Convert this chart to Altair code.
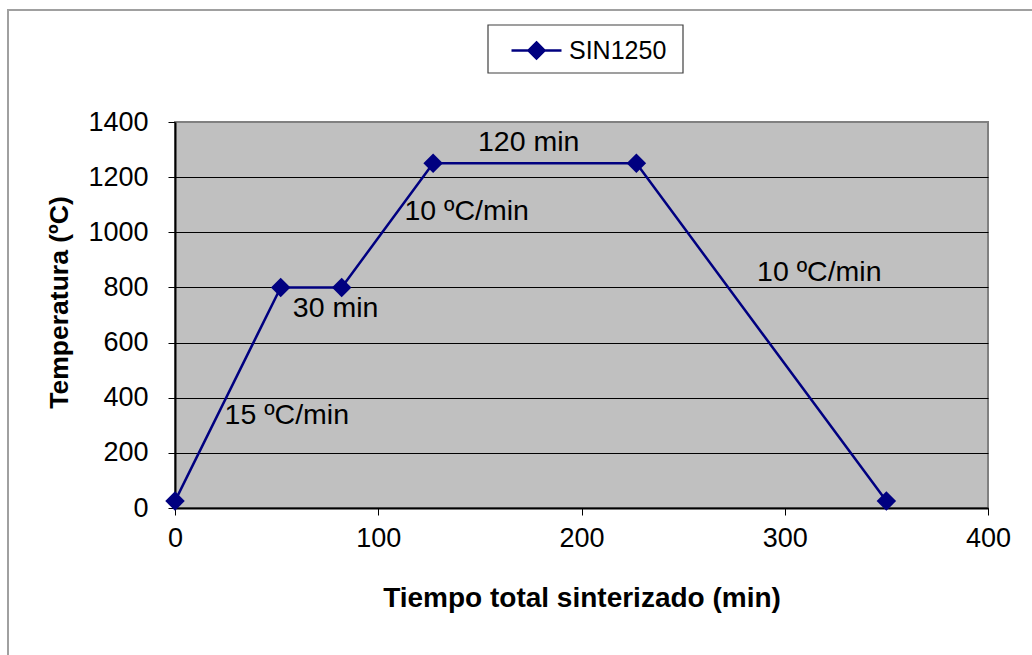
import altair as alt
import pandas as pd

# Data
tiempo = [0, 52, 82, 127, 227, 350]
temperatura = [25, 800, 800, 1250, 1250, 25]
serie = ["SIN1250"] * len(tiempo)

ann_text = ["120 min", "10 ºC/min", "10 ºC/min", "30 min", "15 ºC/min"]
ann_x = [174, 143.5, 317, 79, 55]
ann_y = [1327, 1077, 856, 725, 337]

df = pd.DataFrame({"t": tiempo, "T": temperatura, "serie": serie})
ann = pd.DataFrame({"label": ann_text, "x": ann_x, "y": ann_y})

FONT = "Liberation Sans"
NAVY = "#000080"

xscale = alt.Scale(domain=[0, 400], nice=False, zero=False)
yscale = alt.Scale(domain=[0, 1400], nice=False)

diamond_line = "M-1,0L1,0M0,-0.32L0.32,0L0,0.32L-0.32,0Z"

color = alt.Color(
    "serie:N",
    scale=alt.Scale(domain=["SIN1250"], range=[NAVY]),
    legend=alt.Legend(
        title=None,
        orient="none",
        legendX=335,
        legendY=-98,
        padding=0,
        symbolType=diamond_line,
        symbolSize=2500,
        symbolStrokeWidth=2.5,
        symbolFillColor=NAVY,
        symbolStrokeColor=NAVY,
        labelFontSize=25,
        labelFont=FONT,
        labelColor="black",
        labelOffset=6,
    ),
)

xaxis = alt.Axis(
    values=[0, 100, 200, 300, 400],
    format="d",
    title="Tiempo total sinterizado (min)",
    titleFontSize=28,
    titleFontWeight="bold",
    titleFont=FONT,
    titleColor="black",
    titlePadding=33,
    labelFontSize=27,
    labelFont=FONT,
    labelColor="black",
    labelPadding=10,
    labelFlush=False,
    tickSize=7,
    tickColor="black",
    domainColor="black",
    domainWidth=2,
    grid=False,
)
yaxis = alt.Axis(
    values=[0, 200, 400, 600, 800, 1000, 1200, 1400],
    format="d",
    title="Temperatura (ºC)",
    titleFontSize=26.5,
    titleFontWeight="bold",
    titleFont=FONT,
    titleColor="black",
    titlePadding=14,
    titleY=180,
    labelFontSize=27,
    labelFont=FONT,
    labelColor="black",
    labelPadding=20,
    tickSize=7,
    tickColor="black",
    domainColor="black",
    domainWidth=2,
    grid=True,
    gridColor={"condition": {"test": "datum.value == 1400", "value": "#808080"}, "value": "black"},
    gridWidth=1,
)

frame = alt.Chart(pd.DataFrame({"a": [0]})).mark_rect(
    fill=None, stroke="#A0A0A0", strokeWidth=2
).encode(
    x=alt.value(-167), x2=alt.value(900), y=alt.value(-112), y2=alt.value(600)
)

legend_box = alt.Chart(pd.DataFrame({"a": [0]})).mark_rect(
    fill="white", stroke="#404040", strokeWidth=1.2
).encode(
    x=alt.value(313), x2=alt.value(508), y=alt.value(-97), y2=alt.value(-49)
)

line = alt.Chart(df).mark_line(strokeWidth=2.5).encode(
    x=alt.X("t:Q", scale=xscale, axis=xaxis),
    y=alt.Y("T:Q", scale=yscale, axis=yaxis),
    color=color,
)
points = alt.Chart(df).mark_point(
    shape="diamond", filled=True, size=380, opacity=1
).encode(
    x=alt.X("t:Q", scale=xscale),
    y=alt.Y("T:Q", scale=yscale),
    color=alt.Color("serie:N", scale=alt.Scale(domain=["SIN1250"], range=[NAVY]), legend=None),
)
texts = alt.Chart(ann).mark_text(
    fontSize=28.5, font=FONT, color="black", align="center", baseline="middle"
).encode(
    x=alt.X("x:Q", scale=xscale),
    y=alt.Y("y:Q", scale=yscale),
    text="label:N",
)

chart = alt.layer(line, points, texts, frame, legend_box).properties(
    width=813,
    height=386,
    autosize=alt.AutoSizeParams(type="none"),
    padding={"left": 175, "top": 122, "right": 44, "bottom": 147},
    background="white",
).configure_view(fill="#C0C0C0", stroke="#808080", strokeWidth=2)

chart.save("out.html", embed_options={"renderer": "svg", "actions": False})
